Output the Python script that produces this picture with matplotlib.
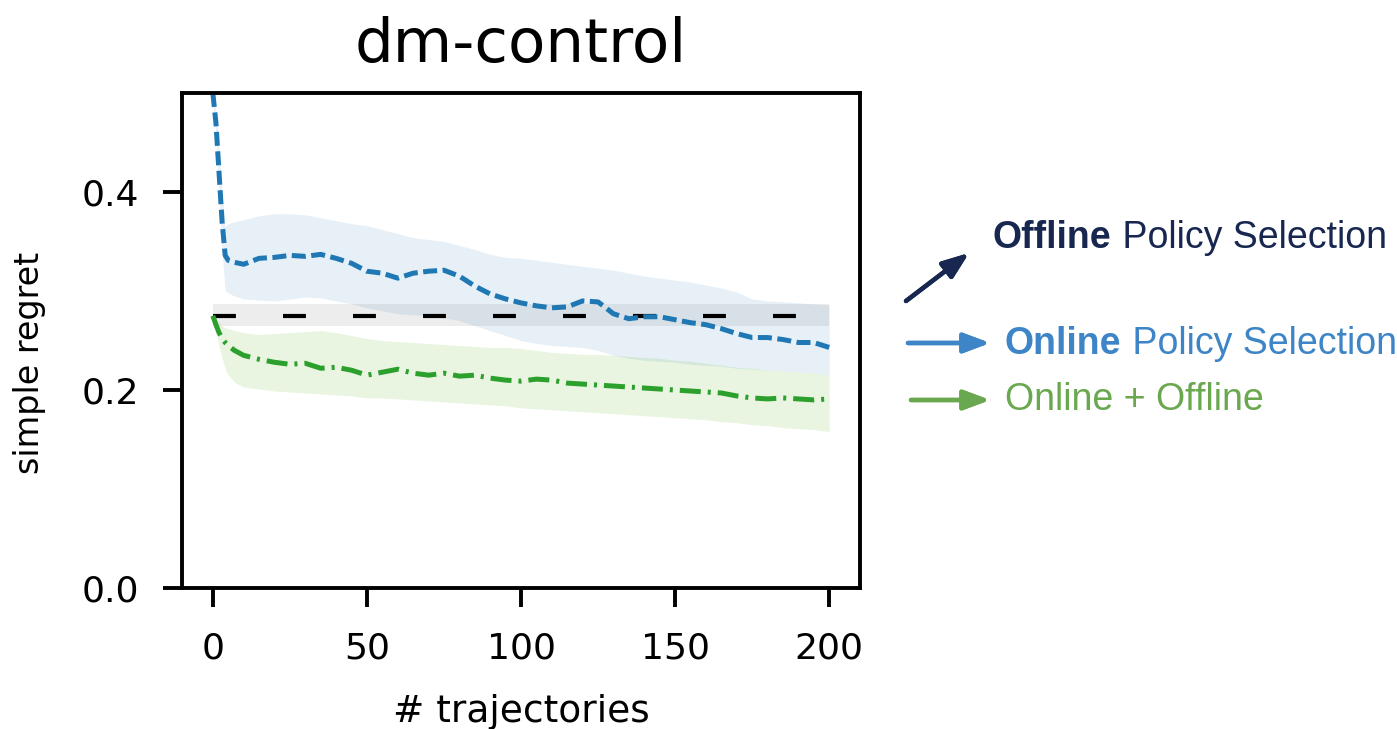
import numpy as np
import matplotlib.pyplot as plt

# number of trajectories
x = [0, 1, 2, 3, 4, 5, 7, 10, 15, 20, 25, 30, 35, 40, 45, 50, 55, 60, 65, 70, 75,
     80, 85, 90, 95, 100, 105, 110, 115, 120, 125, 130, 135, 140, 145, 150, 155,
     160, 165, 170, 175, 180, 185, 190, 195, 200]

# online policy selection
online_mean = [0.500, 0.470, 0.420, 0.370, 0.336, 0.331, 0.329, 0.327, 0.333, 0.334,
               0.336, 0.335, 0.337, 0.333, 0.328, 0.320, 0.318, 0.313, 0.318, 0.320,
               0.321, 0.315, 0.305, 0.297, 0.292, 0.288, 0.285, 0.283, 0.284, 0.290,
               0.289, 0.277, 0.272, 0.274, 0.274, 0.271, 0.268, 0.266, 0.262, 0.257,
               0.253, 0.253, 0.251, 0.248, 0.248, 0.243]
online_hi = [0.505, 0.480, 0.440, 0.400, 0.365, 0.368, 0.370, 0.372, 0.376, 0.378,
             0.378, 0.377, 0.374, 0.371, 0.368, 0.366, 0.362, 0.358, 0.354, 0.352,
             0.350, 0.346, 0.342, 0.337, 0.334, 0.333, 0.331, 0.329, 0.327, 0.325,
             0.323, 0.321, 0.318, 0.315, 0.313, 0.311, 0.309, 0.306, 0.303, 0.299,
             0.292, 0.290, 0.289, 0.288, 0.287, 0.286]
online_lo = [0.495, 0.460, 0.400, 0.340, 0.300, 0.298, 0.295, 0.292, 0.291, 0.290,
             0.292, 0.294, 0.293, 0.290, 0.287, 0.283, 0.280, 0.277, 0.276, 0.275,
             0.273, 0.270, 0.265, 0.260, 0.255, 0.250, 0.247, 0.245, 0.244, 0.243,
             0.240, 0.235, 0.232, 0.230, 0.229, 0.228, 0.226, 0.225, 0.224, 0.222,
             0.221, 0.220, 0.219, 0.218, 0.217, 0.215]

# online + offline
combo_mean = [0.275, 0.266, 0.258, 0.252, 0.248, 0.245, 0.240, 0.235, 0.231, 0.228,
              0.226, 0.227, 0.222, 0.223, 0.220, 0.215, 0.218, 0.221, 0.217, 0.215,
              0.217, 0.214, 0.215, 0.212, 0.210, 0.209, 0.211, 0.210, 0.207, 0.206,
              0.205, 0.204, 0.203, 0.202, 0.201, 0.200, 0.199, 0.198, 0.197, 0.194,
              0.192, 0.191, 0.192, 0.191, 0.190, 0.191]
combo_hi = [0.276, 0.272, 0.268, 0.265, 0.263, 0.262, 0.260, 0.258, 0.256, 0.257,
            0.258, 0.259, 0.260, 0.258, 0.255, 0.252, 0.250, 0.249, 0.248, 0.247,
            0.246, 0.245, 0.244, 0.243, 0.243, 0.242, 0.240, 0.238, 0.237, 0.236,
            0.236, 0.235, 0.234, 0.233, 0.232, 0.230, 0.229, 0.227, 0.225, 0.223,
            0.222, 0.220, 0.219, 0.218, 0.217, 0.215]
combo_lo = [0.274, 0.260, 0.245, 0.232, 0.222, 0.215, 0.208, 0.203, 0.201, 0.199,
            0.198, 0.197, 0.196, 0.195, 0.194, 0.192, 0.192, 0.191, 0.190, 0.189,
            0.188, 0.187, 0.186, 0.185, 0.184, 0.182, 0.181, 0.180, 0.179, 0.178,
            0.177, 0.176, 0.175, 0.174, 0.173, 0.172, 0.171, 0.170, 0.168, 0.167,
            0.165, 0.164, 0.162, 0.161, 0.160, 0.158]

# offline policy selection (constant)
offline_x = [0, 200]
offline_mean = 0.275
offline_lo = 0.265
offline_hi = 0.287

fig = plt.figure(figsize=(13.97, 7.29), dpi=100)
ax = fig.add_axes([0.1303, 0.1934, 0.4853, 0.679])

ax.fill_between(offline_x, offline_lo, offline_hi, color='#d8d8d8', alpha=0.45, lw=0)
ax.fill_between(x, online_lo, online_hi, color='#1f77b4', alpha=0.11, lw=0)
ax.fill_between(x, combo_lo, combo_hi, color='#6cc03c', alpha=0.15, lw=0)

ax.plot(offline_x, [offline_mean, offline_mean], color='black', lw=3,
        dashes=(5.5, 11.3))
ax.plot(x, online_mean, color='#1f77b4', lw=3.6, dashes=(2.8, 1.1))
ax.plot(x, combo_mean, color='#2ca02c', lw=3.6, dashes=(4.2, 1.4, 0.6, 1.4))

ax.set_xlim(-10, 210)
ax.set_ylim(0, 0.5)
ax.set_xticks([0, 50, 100, 150, 200])
ax.set_yticks([0.0, 0.2, 0.4])
ax.tick_params(labelsize=26, length=14, width=2.8, pad=17)
for s in ax.spines.values():
    s.set_linewidth(2.8)

ax.set_title('dm-control', fontsize=44, pad=22)
ax.set_xlabel('# trajectories', fontsize=27, labelpad=21)
ax.set_ylabel('simple regret', fontsize=24)
ax.yaxis.set_label_coords(-0.2, 0.455)

# annotations to the right of the plot
navy = '#172750'
blue = '#3d85c6'
green = '#6aa84f'
arr = dict(arrowstyle='-|>,head_length=1.6,head_width=0.6', lw=3.2,
           shrinkA=0, shrinkB=0)

def px(xp, yp):
    return (xp / 1397, 1 - yp / 729)

fig.add_artist(plt.annotate('', xy=px(969, 253), xytext=px(906, 301),
                            xycoords='figure fraction',
                            arrowprops=dict(arr, color=navy)))
fig.add_artist(plt.annotate('', xy=px(990, 343), xytext=px(908, 343),
                            xycoords='figure fraction',
                            arrowprops=dict(arr, color=blue)))
fig.add_artist(plt.annotate('', xy=px(990, 400), xytext=px(911, 400),
                            xycoords='figure fraction',
                            arrowprops=dict(arr, color=green)))

renderer = fig.canvas.get_renderer()
font = ['Liberation Sans', 'DejaVu Sans']

def two_part(xp, yp, bold, rest, color):
    t = fig.text(*px(xp, yp), bold, fontsize=27, fontweight='bold', color=color,
                 family=font, va='center', ha='left')
    bb = t.get_window_extent(renderer)
    fig.text(bb.x1 / fig.bbox.width, 1 - yp / 729, rest, fontsize=27, color=color,
             family=font, va='center', ha='left')

two_part(993, 238, 'Offline', ' Policy Selection', navy)
two_part(1005, 344, 'Online', ' Policy Selection', blue)
fig.text(*px(1005, 400), 'Online + Offline', fontsize=27, color=green,
         family=font, va='center', ha='left')

fig.savefig('out.png', dpi=100)
